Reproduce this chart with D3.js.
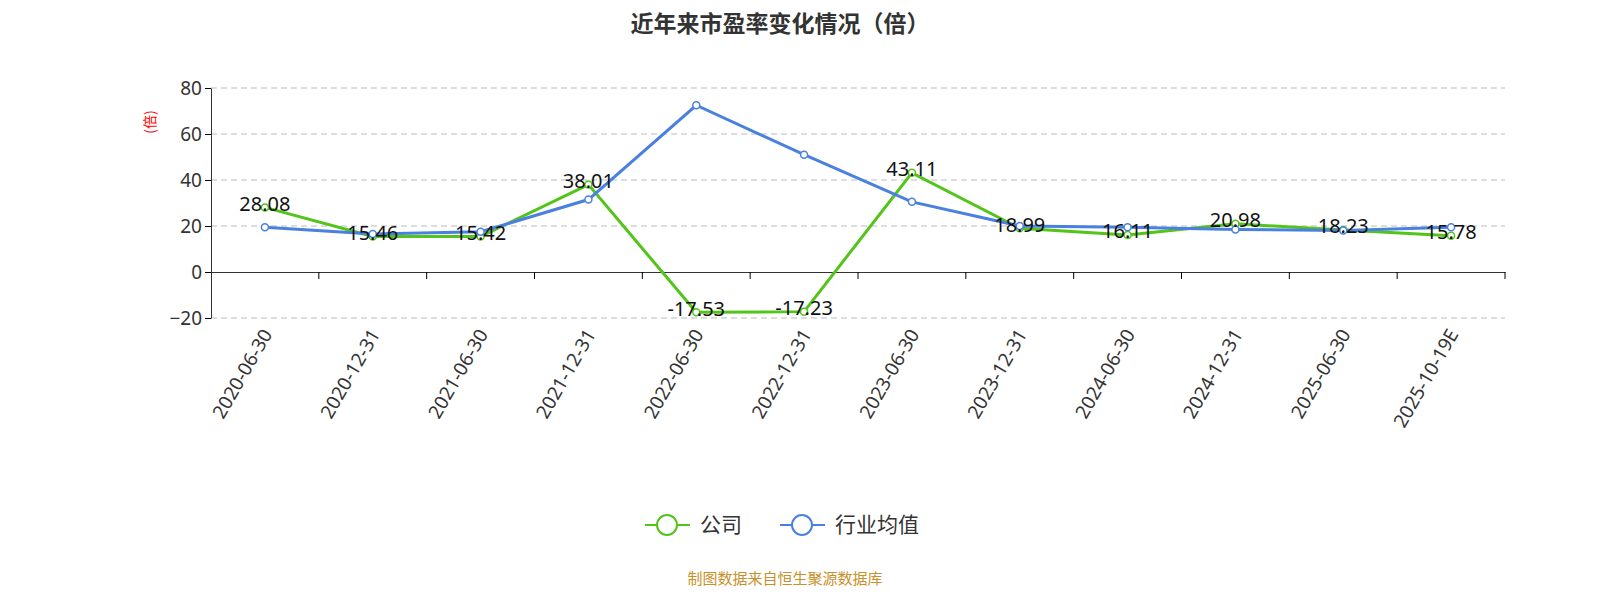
<!DOCTYPE html>
<html><head><meta charset="utf-8">
<script src="https://cdn.jsdelivr.net/npm/d3@7"></script>
<style>body{margin:0;background:#fff;font-family:"Noto Sans CJK SC","Noto Sans",sans-serif}</style>
</head><body><svg id="c" width="1600" height="600"></svg>
<script>
const categories=["2020-06-30","2020-12-31","2021-06-30","2021-12-31","2022-06-30","2022-12-31","2023-06-30","2023-12-31","2024-06-30","2024-12-31","2025-06-30","2025-10-19E"];
const company=[28.08,15.46,15.42,38.01,-17.53,-17.23,43.11,18.99,16.11,20.98,18.23,15.78];
const industry=[19.5,16.5,17.5,31.5,72.5,51,30.5,20,19.5,18.5,18,19.5];
const yTicks=[-20,0,20,40,60,80];
const svg=d3.select("#c");
const L=211,R=1505;
const x=d3.scaleBand().domain(categories).range([L,R]);
const y=d3.scaleLinear().domain([-20,80]).range([318,88]);
svg.append("text").attr("x",780).attr("y",32).attr("text-anchor","middle").attr("font-size",23).attr("font-weight","bold").attr("fill","#333").text("近年来市盈率变化情况（倍）");
const g=svg.append("g");
yTicks.forEach(t=>{ if(t!==0) g.append("line").attr("x1",L).attr("x2",R).attr("y1",y(t)).attr("y2",y(t)).attr("stroke","#bbb").attr("stroke-width",1.2).attr("stroke-dasharray","6,4");});
const ya=svg.append("g").attr("transform",`translate(${L},0)`).call(d3.axisLeft(y).tickValues(yTicks).tickSize(6).tickSizeOuter(0));
ya.selectAll("text").attr("font-size",19).attr("fill","#333").attr("font-family","Noto Sans");
ya.select(".domain").attr("stroke","#333");
const xa=svg.append("g").attr("transform",`translate(0,${y(0)})`).call(d3.axisBottom(x).tickSize(7).tickSizeOuter(0).tickFormat(""));
xa.select(".domain").attr("stroke","#333");
xa.selectAll(".tick line").attr("transform",`translate(${x.bandwidth()/2},0)`);
categories.forEach(c=>{
  const cx=x(c)+x.bandwidth()/2;
  svg.append("text").attr("transform",`translate(${cx+8},${334}) rotate(-60)`).attr("text-anchor","end").attr("font-size",19).attr("fill","#333").attr("font-family","Noto Sans").text(c);
});
svg.append("text").attr("transform",`translate(155,122) rotate(-90)`).attr("text-anchor","middle").attr("font-size",14).attr("fill","red").text("(倍)");
const cx=(d,i)=>x(categories[i])+x.bandwidth()/2;
function series(data,color){
  svg.append("path").datum(data).attr("d",d3.line().x(cx).y(d=>y(d))).attr("fill","none").attr("stroke",color).attr("stroke-width",3);
  svg.selectAll(null).data(data).enter().append("circle").attr("cx",cx).attr("cy",d=>y(d)).attr("r",3.5).attr("fill","#fff").attr("stroke",color).attr("stroke-width",1.5);
}
series(company,"#52c41a");
series(industry,"#4a80e0");
svg.selectAll(null).data(company).enter().append("text").attr("x",cx).attr("y",d=>y(d)-2).attr("text-anchor","middle").attr("font-size",20).attr("fill","#111").attr("font-family","Noto Sans").attr("dominant-baseline","middle").text(d=>d.toFixed(2));
const lg=svg.append("g");
[["公司","#52c41a",645],["行业均值","#4a80e0",780]].forEach(([t,c,x0])=>{
  lg.append("line").attr("x1",x0).attr("x2",x0+45).attr("y1",525).attr("y2",525).attr("stroke",c).attr("stroke-width",2);
  lg.append("circle").attr("cx",x0+22).attr("cy",525).attr("r",10).attr("fill","#fff").attr("stroke",c).attr("stroke-width",2);
  lg.append("text").attr("x",x0+55).attr("y",532).attr("font-size",21).attr("fill","#333").text(t);
});
svg.append("text").attr("x",785).attr("y",584).attr("text-anchor","middle").attr("font-size",15).attr("fill","#c8902a").text("制图数据来自恒生聚源数据库");
</script></body></html>
